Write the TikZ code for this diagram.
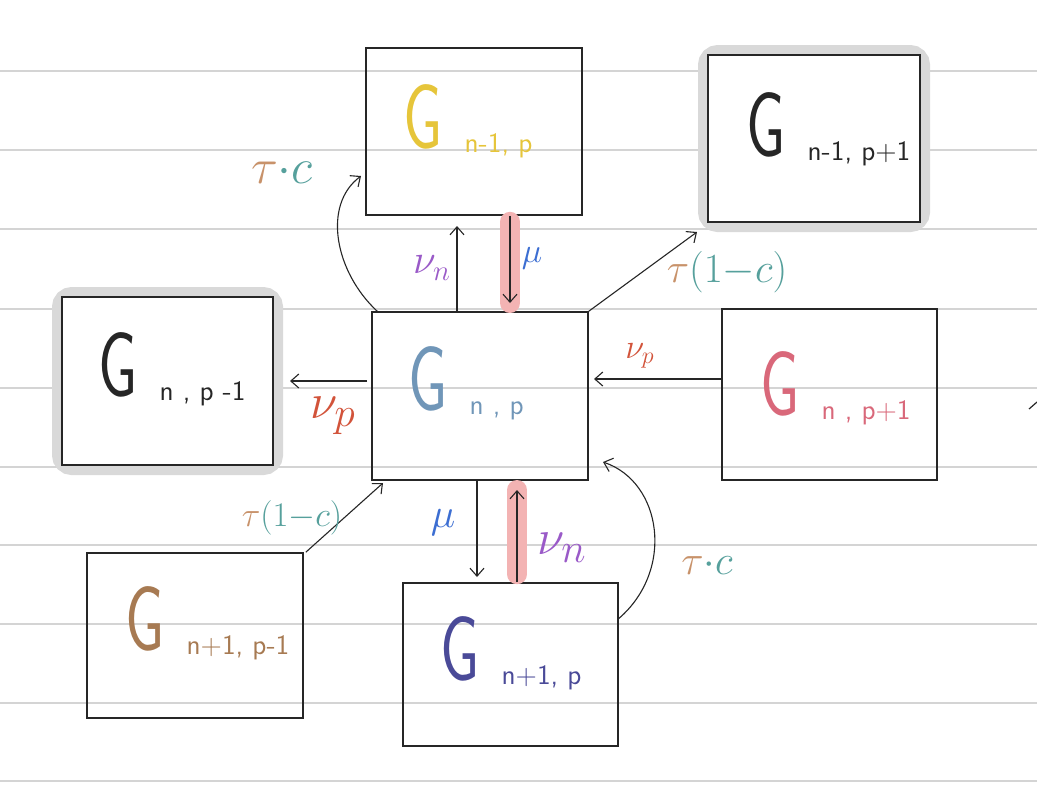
\documentclass[tikz,border=0pt]{standalone}
\usepackage{fontspec}
\usetikzlibrary{arrows.meta}
\definecolor{ink}{HTML}{262626}
\definecolor{rulec}{HTML}{D4D4D4}
\definecolor{haloc}{HTML}{D9D9D9}
\definecolor{hlpink}{HTML}{F3B3B3}
\definecolor{gyellow}{HTML}{E6C53A}
\definecolor{gblue}{HTML}{7096B8}
\definecolor{gpink}{HTML}{D9687A}
\definecolor{gbrown}{HTML}{A77A52}
\definecolor{gindigo}{HTML}{4A4A98}
\definecolor{ctau}{HTML}{C8926A}
\definecolor{cteal}{HTML}{56A09C}
\definecolor{cnu}{HTML}{9A5AC8}
\definecolor{cmu}{HTML}{3C6ED2}
\definecolor{cnup}{HTML}{D2533A}
\newcommand{\Gl}[1]{{\fontsize{46}{46}\selectfont\sffamily\scalebox{0.68}[1]{G}}\hspace{11pt}\raisebox{-2pt}{\fontsize{14}{14}\selectfont\sffamily #1}}
\begin{document}
\begin{tikzpicture}[x=0.5pt,y=-0.5pt,
  box/.style={draw=ink, line width=0.8pt, rectangle, inner sep=0pt},
  halo/.style={draw=haloc, line width=10pt, rounded corners=5pt},
  hl/.style={draw=hlpink, line width=10pt, line cap=round},
  arr/.style={draw=ink, line width=0.55pt, -{Straight Barb[length=4pt,width=7pt]}},
  gtxt/.style={anchor=base west, inner sep=0pt},
  lab/.style={inner sep=0pt}]
\useasboundingbox (0,0) rectangle (1037,810);
\fill[white] (0,0) rectangle (1037,810);
\foreach \yy in {71,150,229,309,388,467,545,624,703,781}
  \draw[rulec, line width=1pt] (0,\yy) -- (1037,\yy);
% halos
\draw[halo] (708,55) rectangle (920,222);
\draw[halo] (62,297) rectangle (273,465);
% boxes
\node[box, minimum width=108pt, minimum height=83.5pt] (A) at (474,131.5) {};
\node[box, minimum width=106pt, minimum height=83.5pt, fill=white] (B) at (814,138.5) {};
\node[box, minimum width=105.5pt, minimum height=84pt, fill=white] (C) at (167.5,381) {};
\node[box, minimum width=108pt, minimum height=84pt] (D) at (480,396) {};
\node[box, minimum width=107.5pt, minimum height=85.5pt] (E) at (829.5,394.5) {};
\node[box, minimum width=108pt, minimum height=82.5pt] (F) at (195,635.5) {};
\node[box, minimum width=107.5pt, minimum height=81.5pt] (H) at (510.5,664.5) {};
% box texts
\node[gtxt, text=gyellow] (tA) at (403,148) {\Gl{n-1, p}};
\node[gtxt, text=ink] (tB) at (746,156) {\Gl{n-1, p+1}};
\node[gtxt, text=ink] (tC) at (98,396) {\Gl{n , p -1}};
\node[gtxt, text=gblue] (tD) at (408,410) {\Gl{n , p}};
\node[gtxt, text=gpink] (tE) at (760,415) {\Gl{n , p+1}};
\node[gtxt, text=gbrown] (tF) at (125,650) {\Gl{n+1, p-1}};
\node[gtxt, text=gindigo] (tH) at (440,680) {\Gl{n+1, p}};
% highlights
\coordinate (e2) at (510,303);
\coordinate (e9) at (517,490);
\draw[hl] (A.south -| e2) ++(0,6) -- (e2);
\draw[hl] (H.north -| e9) ++(0,-8) -- (e9);
% connectors
\coordinate (e1) at (457,226);
\draw[arr] (D.north -| e1) -- (e1);
\draw[arr] (A.south -| e2) -- (e2);
\coordinate (e3) at (361,176);
\draw[arr] ([xshift=3pt]D.north west) .. controls (335,272) and (322,205) .. (e3);
\coordinate (e4) at (697,232);
\draw[arr] (D.north east) -- (e4);
\coordinate (e5) at (290,381);
\draw[arr] ([xshift=-2pt]D.west |- e5) -- (e5);
\coordinate (e6) at (594,379);
\draw[arr] (E.west |- e6) -- (e6);
\coordinate (e7) at (383,483);
\draw[arr] ([xshift=1pt]F.north east) -- (e7);
\coordinate (e8) at (477,577);
\draw[arr] (D.south -| e8) -- (e8);
\draw[arr] (H.north -| e9) -- (e9);
\coordinate (e10) at (603,462);
\draw[arr] ([yshift=23pt]H.east) .. controls (675,570) and (662,482) .. (e10);
\draw[ink, line width=0.6pt] (1029,409) -- (1037,402);
% labels
\node[lab] (l1) at (282,172) {\fontsize{24}{24}\selectfont$\textcolor{ctau}{\tau}\textcolor{cteal}{\cdot c}$};
\node[lab] (l2) at (432,268) {\fontsize{20}{20}\selectfont$\textcolor{cnu}{\nu_n}$};
\node[lab] (l3) at (532,258) {\fontsize{18}{18}\selectfont$\textcolor{cmu}{\mu}$};
\node[lab] (l4) at (727,272) {\fontsize{22}{22}\selectfont$\textcolor{ctau}{\tau}\textcolor{cteal}{(1{-}c)}$};
\node[lab] (l5) at (640,356) {\fontsize{18}{18}\selectfont$\textcolor{cnup}{\nu_p}$};
\node[lab] (l6) at (333,416) {\fontsize{28}{28}\selectfont$\textcolor{cnup}{\nu_p}$};
\node[lab] (l7) at (292,518) {\fontsize{18}{18}\selectfont$\textcolor{ctau}{\tau}\textcolor{cteal}{(1{-}c)}$};
\node[lab] (l8) at (443,523) {\fontsize{22}{22}\selectfont$\textcolor{cmu}{\mu}$};
\node[lab] (l9) at (562,548) {\fontsize{28}{28}\selectfont$\textcolor{cnu}{\nu_n}$};
\node[lab] (l10) at (707,565) {\fontsize{22}{22}\selectfont$\textcolor{ctau}{\tau}\textcolor{cteal}{\cdot c}$};
\end{tikzpicture}
\end{document}
